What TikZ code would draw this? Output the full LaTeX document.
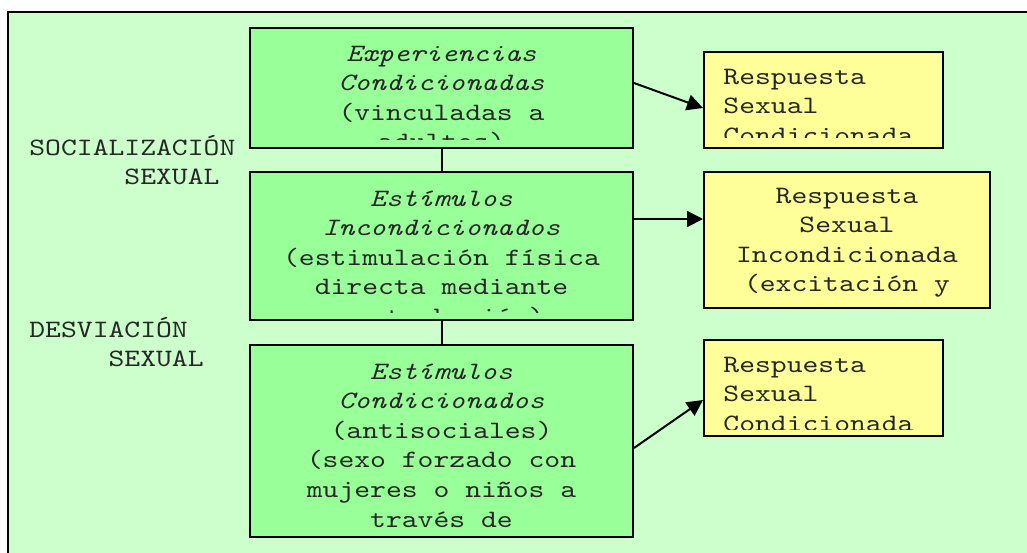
\documentclass[tikz,border=0pt]{standalone}
\usepackage{fontspec}
\newfontfamily\cour{lmmono10-regular}[Extension=.otf, ItalicFont=lmmono10-italic, FakeStretch=1.207]
\usetikzlibrary{arrows.meta}
\definecolor{bgg}{HTML}{CCFFCC}
\definecolor{boxg}{HTML}{99FF99}
\definecolor{boxy}{HTML}{FFFF99}
\begin{document}
\begin{tikzpicture}[x=0.5pt,y=-0.5pt,
  font={\cour\fontsize{12.5pt}{14.8pt}\selectfont},
  frame/.style={draw=black, line width=1pt, fill=bgg},
  gbox/.style={draw=black, line width=1pt, fill=boxg, inner sep=0pt, anchor=north west},
  ybox/.style={draw=black, line width=1pt, fill=boxy, inner sep=0pt, anchor=north west},
  txt/.style={inner sep=0pt, text=black!85},
  conn/.style={draw=black, line width=1pt},
  arr/.style={draw=black, line width=1pt, -{Triangle[length=8pt,width=8pt]}}]
\useasboundingbox (0,0) rectangle (1027,552);
\clip (0,0) rectangle (1027,552);
\fill[white] (0,0) rectangle (1027,552);
\path[frame] (8,12) rectangle (1040,570);

% green boxes
\node[gbox, minimum width=191.5pt, minimum height=60pt] (e1) at (249,27) {};
\node[gbox, minimum width=191.5pt, minimum height=74pt] (e2) at (249,171) {};
\node[gbox, minimum width=191.5pt, minimum height=96pt] (e3) at (249,344) {};
% yellow boxes
\node[ybox, minimum width=119.5pt, minimum height=48pt] (r1) at (703,51) {};
\node[ybox, minimum width=143pt, minimum height=68pt] (r2) at (703,171) {};
\node[ybox, minimum width=119.5pt, minimum height=48pt] (r3) at (703,339) {};

% texts in green boxes (clipped like the original)
\begin{scope}
\clip ([yshift=5pt]e1.south west) rectangle (e1.north east);
\node[txt, anchor=base] (t1) at ([yshift=-17pt]e1.north)
  {\parbox[t]{190pt}{\centering\textit{Experiencias}\\\textit{Condicionadas}\\(vinculadas a\\adultos)}};
\end{scope}
\begin{scope}
\clip ([yshift=4.5pt]e2.south west) rectangle (e2.north east);
\node[txt, anchor=base] (t2) at ([yshift=-17.5pt]e2.north)
  {\parbox[t]{190pt}{\centering\textit{Estímulos}\\\textit{Incondicionados}\\(estimulación física\\directa mediante\\masturbación)}};
\end{scope}
\begin{scope}
\clip ([yshift=4.5pt]e3.south west) rectangle (e3.north east);
\node[txt, anchor=base] (t3) at ([yshift=-17.5pt]e3.north)
  {\parbox[t]{190pt}{\centering\textit{Estímulos}\\\textit{Condicionados}\\(antisociales)\\(sexo forzado con\\mujeres o niños a\\través de}};
\end{scope}

% texts in yellow boxes
\begin{scope}
\clip ([yshift=6pt]r1.south west) rectangle (r1.north east);
\node[txt, anchor=base west] (u1) at ([xshift=10pt,yshift=-16.5pt]r1.north west)
  {\parbox[t]{105pt}{\raggedright Respuesta\\Sexual\\Condicionada}};
\end{scope}
\begin{scope}
\clip ([yshift=5pt]r2.south west) rectangle (r2.north east);
\node[txt, anchor=base] (u2) at ([yshift=-16pt]r2.north)
  {\parbox[t]{140pt}{\centering Respuesta\\Sexual\\Incondicionada\\(excitación y}};
\end{scope}
\begin{scope}
\clip ([yshift=4pt]r3.south west) rectangle (r3.north east);
\node[txt, anchor=base west] (u3) at ([xshift=10pt,yshift=-16.5pt]r3.north west)
  {\parbox[t]{105pt}{\raggedright Respuesta\\Sexual\\Condicionada}};
\end{scope}

% side labels
\node[txt, anchor=base west] (soc) at (29,155)
  {\parbox[t]{120pt}{\raggedright SOCIALIZACIÓN\\\phantom{SOCIAL}SEXUAL}};
\node[txt, anchor=base west] (des) at (29,337)
  {\parbox[t]{120pt}{\raggedright DESVIACIÓN\\\phantom{DESVI}SEXUAL}};

% connectors
\draw[conn] (e1.south) -- (e2.north);
\draw[conn] (e2.south) -- (e3.north);
\draw[arr] ([yshift=2.5pt]e1.east) -- ([yshift=-4pt]r1.west);
\draw[arr] ([yshift=13.5pt]e2.east) -- ([yshift=10.5pt]r2.west);
\draw[arr] ([yshift=-3.5pt]e3.east) -- ([yshift=-6pt]r3.west);
\end{tikzpicture}
\end{document}
